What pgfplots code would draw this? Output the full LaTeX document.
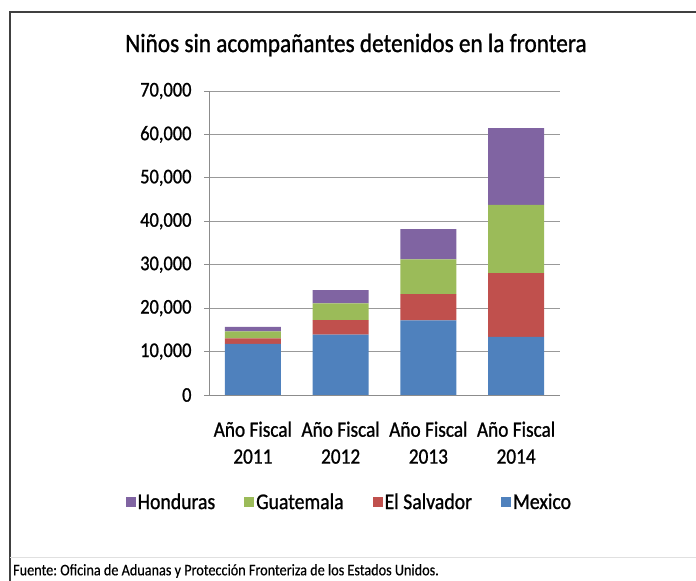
\documentclass[border=0pt]{standalone}
\usepackage{fontspec}
\setmainfont{Carlito}[FakeStretch=0.88, FakeBold=1]
\newfontfamily\plainfont{Carlito}[FakeStretch=0.88, FakeBold=0.4]
\usepackage{pgfplots}
\pgfplotsset{compat=1.18}
\definecolor{cMex}{HTML}{4F81BD}
\definecolor{cSal}{HTML}{C0504D}
\definecolor{cGua}{HTML}{9BBB59}
\definecolor{cHon}{HTML}{8064A2}
\frenchspacing
\begin{document}
\begin{tikzpicture}
\useasboundingbox (0,0) rectangle (696bp,581bp);
% outer frame
\draw[line width=1.2bp, black!75] (10bp,0bp) -- (10bp,569bp) -- (696bp,569bp);
\draw[line width=0.6bp, black!12] (10bp,24bp) -- (696bp,24bp);
\node[anchor=west, inner sep=0pt, font=\plainfont\fontsize{16.2}{18}\selectfont] at (13bp,10bp) {Fuente: Oficina de Aduanas y Protección Fronteriza de los Estados Unidos.};
\node[font=\fontsize{26.5}{30}\selectfont, inner sep=0pt] at (356bp,536bp) {Niños sin acompañantes detenidos en la frontera};
\begin{axis}[
  at={(209bp,186bp)}, anchor=south west,
  scale only axis, width=351bp, height=304bp,
  ybar stacked, bar width=56bp,
  xmin=-0.5, xmax=3.5, ymin=0, ymax=70000,
  xtick={0,1,2,3},
  xticklabels={{Año Fiscal\\2011},{Año Fiscal\\2012},{Año Fiscal\\2013},{Año Fiscal\\2014}},
  xticklabel style={align=center, font=\fontsize{22}{27}\selectfont, yshift=-18bp},
  ytick distance=10000,
  yticklabel style={font=\fontsize{21}{25}\selectfont, xshift=-9bp},
  scaled y ticks=false,
  /pgf/number format/.cd, fixed, 1000 sep={,}, assume math mode=true,
  /pgfplots/.cd,
  axis x line*=bottom, axis y line*=left,
  axis line style={black!45, line width=0.9bp},
  x axis line style={-},
  y axis line style={-},
  ymajorgrids, grid style={black!40, line width=0.9bp},
  xtick style={draw=none},
  ytick style={black!45, line width=0.9bp},
  tick align=outside, major tick length=5bp,
  enlarge x limits=false,
  legend style={at={(0.40,-0.352)}, anchor=center, draw=none, fill=none,
    legend columns=4, font=\fontsize{22.5}{25}\selectfont,
    /tikz/every even column/.append style={column sep=27bp}},
  legend cell align=left,
  reverse legend,
  legend image code/.code={\fill[#1] (0bp,-5bp) rectangle (10bp,5bp);},
]
\addplot[fill=cMex, draw=none] coordinates {(0,11770) (1,13900) (2,17200) (3,13400)};
\addplot[fill=cSal, draw=none] coordinates {(0,1250) (1,3320) (2,6050) (3,14650)};
\addplot[fill=cGua, draw=none] coordinates {(0,1650) (1,3850) (2,8000) (3,15700)};
\addplot[fill=cHon, draw=none] coordinates {(0,1000) (1,3050) (2,6950) (3,17700)};
\legend{Mexico, El Salvador, Guatemala, Honduras}
\end{axis}
\end{tikzpicture}
\end{document}
